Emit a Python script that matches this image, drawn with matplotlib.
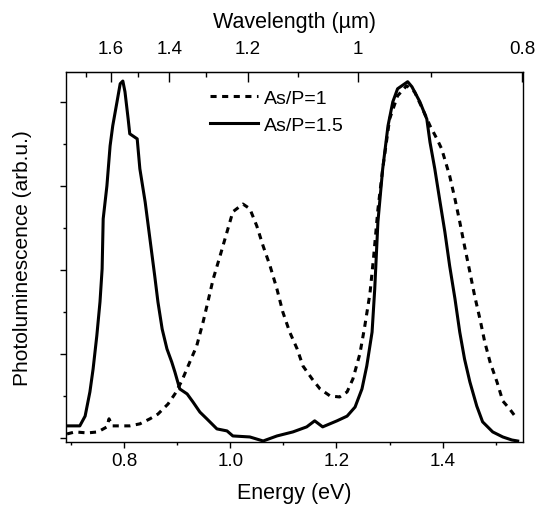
import numpy as np
import matplotlib
matplotlib.use("Agg")
import matplotlib.pyplot as plt

plt.rcParams['font.family'] = ['Liberation Sans', 'DejaVu Sans']

# As/P = 1.5 (solid)
energy_15 = [0.693, 0.717, 0.727, 0.736, 0.742, 0.749, 0.755, 0.759, 0.761, 0.768,
             0.774, 0.779, 0.787, 0.793, 0.798, 0.802, 0.808, 0.811, 0.825, 0.830,
             0.840, 0.849, 0.858, 0.864, 0.872, 0.881, 0.890, 0.896, 0.905, 0.919,
             0.930, 0.943, 0.956, 0.975, 0.994, 1.005, 1.037, 1.062, 1.088, 1.118,
             1.144, 1.159, 1.174, 1.201, 1.220, 1.235, 1.248, 1.257, 1.267, 1.272,
             1.278, 1.287, 1.297, 1.306, 1.315, 1.334, 1.342, 1.357, 1.370, 1.376,
             1.385, 1.394, 1.404, 1.413, 1.423, 1.432, 1.441, 1.451, 1.464, 1.475,
             1.494, 1.513, 1.530, 1.541]
pl_15 = [0.036, 0.036, 0.065, 0.137, 0.205, 0.304, 0.405, 0.503, 0.652, 0.750,
         0.869, 0.929, 1.000, 1.054, 1.062, 1.030, 0.949, 0.905, 0.890, 0.801,
         0.702, 0.592, 0.482, 0.405, 0.324, 0.265, 0.226, 0.196, 0.146, 0.131,
         0.107, 0.077, 0.057, 0.027, 0.021, 0.006, 0.003, -0.009, 0.006, 0.018,
         0.033, 0.051, 0.033, 0.051, 0.065, 0.092, 0.146, 0.214, 0.315, 0.443,
         0.643, 0.801, 0.929, 1.000, 1.039, 1.060, 1.045, 1.000, 0.949, 0.880,
         0.801, 0.711, 0.613, 0.512, 0.414, 0.315, 0.235, 0.167, 0.095, 0.048,
         0.018, 0.003, -0.006, -0.009]

# As/P = 1 (dashed)
energy_1 = [0.693, 0.708, 0.731, 0.751, 0.768, 0.772, 0.778, 0.793, 0.811, 0.830,
            0.849, 0.864, 0.883, 0.896, 0.909, 0.924, 0.937, 0.949, 0.958, 0.968,
            0.981, 0.994, 1.005, 1.024, 1.037, 1.050, 1.062, 1.075, 1.088, 1.099,
            1.112, 1.126, 1.137, 1.154, 1.169, 1.188, 1.206, 1.220, 1.231, 1.244,
            1.253, 1.263, 1.270, 1.278, 1.287, 1.300, 1.315, 1.332, 1.347, 1.362,
            1.376, 1.389, 1.398, 1.413, 1.423, 1.432, 1.441, 1.451, 1.460, 1.470,
            1.479, 1.489, 1.502, 1.513, 1.526, 1.536]
pl_1 = [0.012, 0.018, 0.015, 0.018, 0.033, 0.057, 0.036, 0.036, 0.036, 0.042,
        0.057, 0.071, 0.101, 0.131, 0.170, 0.226, 0.274, 0.345, 0.405, 0.473,
        0.542, 0.613, 0.673, 0.696, 0.682, 0.631, 0.571, 0.512, 0.443, 0.375,
        0.315, 0.265, 0.214, 0.176, 0.146, 0.125, 0.122, 0.137, 0.176, 0.250,
        0.330, 0.430, 0.540, 0.680, 0.801, 0.949, 1.018, 1.048, 1.030, 0.979,
        0.929, 0.890, 0.860, 0.780, 0.711, 0.643, 0.571, 0.494, 0.423, 0.354,
        0.286, 0.226, 0.167, 0.110, 0.086, 0.065]

wl_major = [1.6, 1.4, 1.2, 1.0, 0.8]
wl_labels = ['1.6', '1.4', '1.2', '1', '0.8']
wl_minor = [1.7, 1.5, 1.3, 1.1, 0.9]

HC = 1.2398


def ev_to_um(e):
    e = np.asarray(e, dtype=float)
    with np.errstate(divide='ignore'):
        return HC / e


fig = plt.figure(figsize=(5.4, 5.06), dpi=100)
ax = fig.add_axes([0.1222, 0.1245, 0.8463, 0.7313])

ax.plot(energy_1, pl_1, color='black', lw=2.2, linestyle=(0, (2.0, 1.8)), label='As/P=1')
ax.plot(energy_15, pl_15, color='black', lw=2.2, label='As/P=1.5')

ax.set_xlim(0.691, 1.551)
ax.set_ylim(-0.012, 1.089)

ax.set_xticks([0.8, 1.0, 1.2, 1.4])
ax.set_xticks([0.7, 0.9, 1.1, 1.3, 1.5], minor=True)
ax.set_yticks([0, 0.25, 0.5, 0.75, 1.0])
ax.set_yticks([0.125, 0.375, 0.625, 0.875], minor=True)
ax.set_yticklabels([])
ax.tick_params(axis='both', which='major', direction='out', length=4, width=1, labelsize=13.5)
ax.tick_params(axis='both', which='minor', direction='out', length=2.5, width=1)
ax.tick_params(top=False, right=False, which='both')
for s in ax.spines.values():
    s.set_linewidth(1.0)

ax.set_xlabel('Energy (eV)', fontsize=15.5, labelpad=9)
ax.set_ylabel('Photoluminescence (arb.u.)', fontsize=15, labelpad=17)

top = ax.secondary_xaxis('top', functions=(ev_to_um, ev_to_um))
top.set_xticks(wl_major)
top.set_xticklabels(wl_labels)
top.set_xticks(wl_minor, minor=True)
top.tick_params(which='major', direction='in', length=7, width=1, labelsize=13.5, pad=11)
top.tick_params(which='minor', direction='in', length=3.5, width=1)
top.set_xlabel('Wavelength (\u00b5m)', fontsize=15.5, labelpad=9)

ax.legend(loc='upper left', bbox_to_anchor=(0.285, 0.99), frameon=False, fontsize=14,
          handlelength=2.5, handletextpad=0.3, labelspacing=0.5, borderaxespad=0.3)

fig.savefig('out.png', dpi=100)
